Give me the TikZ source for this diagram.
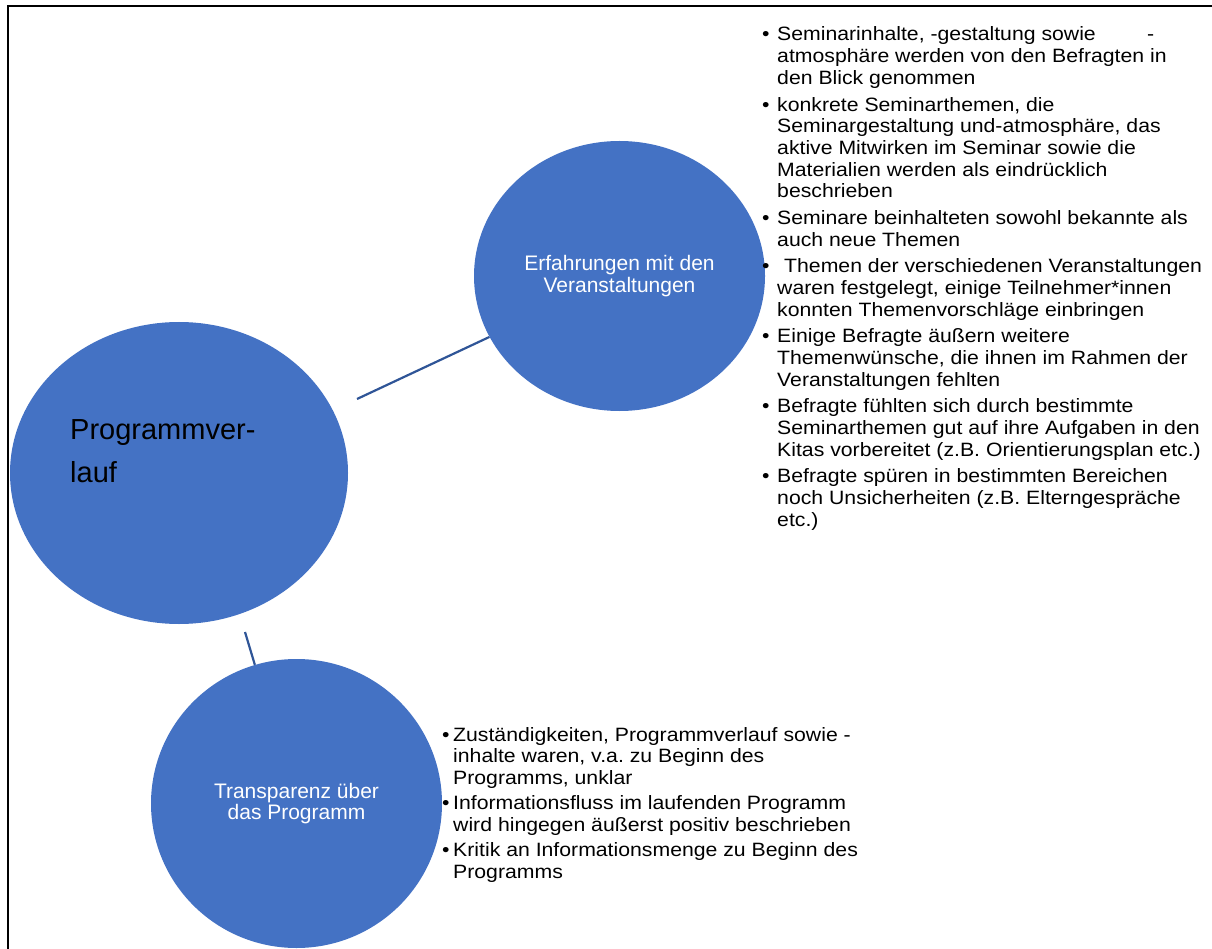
\documentclass[tikz,border=0pt]{standalone}
\usepackage{fontspec}
\setmainfont{Liberation Sans}
\newfontfamily\listfont[FakeStretch=1.1]{Liberation Sans}
\usetikzlibrary{shapes.geometric}
\definecolor{circblue}{RGB}{68,114,196}
\definecolor{lineblue}{RGB}{47,85,151}
\newcommand{\bul}[1][15pt]{\makebox[#1][l]{\textbullet}}
\newcommand{\ind}[1][15pt]{\hspace*{#1}}
\frenchspacing
\tikzset{
  bubble/.style={ellipse, fill=circblue, draw=none, inner sep=0pt, align=center,
    text=white, font=\fontsize{21}{21.7}\selectfont},
  conn/.style={draw=lineblue, line width=2.2pt},
  frame/.style={draw=black, line width=2pt},
  listnode/.style={anchor=base west, inner sep=0pt},
}
\begin{document}
\begin{tikzpicture}[x=1pt,y=-1pt]
\useasboundingbox (0,0) rectangle (1212,949);
\draw[frame] (7.5,949) -- (7.5,6) -- (1212,6);

\node[bubble, minimum width=338pt, minimum height=302pt] (main) at (179,473) {};
\node[anchor=base west, inner sep=0pt, text=black] (maintext) at (70,439)
  {\parbox[t]{260pt}{\fontsize{29}{43.7}\selectfont\raggedright Programmver-\\lauf}};

\node[bubble, minimum width=291pt, minimum height=270pt] (erf) at (619.5,276)
  {Erfahrungen mit den\\Veranstaltungen};
\node[bubble, minimum width=291pt, minimum height=289pt] (trans) at (296.5,803.5)
  {Transparenz über\\das Programm};

\coordinate (c1) at (357,399);
\coordinate (c2) at (245,632);
\draw[conn] (c1) -- (erf);
\draw[conn] (c2) -- (trans);

\node[listnode] (list1) at (762,41) {\parbox[t]{450pt}{\listfont\fontsize{19.3}{21.67}\selectfont\lineskiplimit=-100pt\raggedright\frenchspacing
\bul\makebox[377pt][l]{Seminarinhalte, -gestaltung sowie\hfill-}\\
\ind atmosphäre werden von den Befragten in\\
\ind den Blick genommen\\[5pt]
\bul konkrete Seminarthemen, die\\
\ind Seminargestaltung und-atmosphäre, das\\
\ind aktive Mitwirken im Seminar sowie die\\
\ind Materialien werden als eindrücklich\\
\ind beschrieben\\[5pt]
\bul Seminare beinhalteten sowohl bekannte als\\
\ind auch neue Themen\\[5pt]
\bul\hspace*{7pt}Themen der verschiedenen Veranstaltungen\\
\ind waren festgelegt, einige Teilnehmer*innen\\
\ind konnten Themenvorschläge einbringen\\[5pt]
\bul Einige Befragte äußern weitere\\
\ind Themenwünsche, die ihnen im Rahmen der\\
\ind Veranstaltungen fehlten\\[5pt]
\bul Befragte fühlten sich durch bestimmte\\
\ind Seminarthemen gut auf ihre Aufgaben in den\\
\ind Kitas vorbereitet (z.B. Orientierungsplan etc.)\\[5pt]
\bul Befragte spüren in bestimmten Bereichen\\
\ind noch Unsicherheiten (z.B. Elterngespräche\\
\ind etc.)}};

\node[listnode] (list2) at (442,741) {\parbox[t]{450pt}{\listfont\fontsize{19.3}{21.67}\selectfont\lineskiplimit=-100pt\raggedright\frenchspacing
\bul[11pt]Zuständigkeiten, Programmverlauf sowie -\\
\ind[11pt]inhalte waren, v.a. zu Beginn des\\
\ind[11pt]Programms, unklar\\[3.5pt]
\bul[11pt]Informationsfluss im laufenden Programm\\
\ind[11pt]wird hingegen äußerst positiv beschrieben\\[3.5pt]
\bul[11pt]Kritik an Informationsmenge zu Beginn des\\
\ind[11pt]Programms}};
\end{tikzpicture}
\end{document}
